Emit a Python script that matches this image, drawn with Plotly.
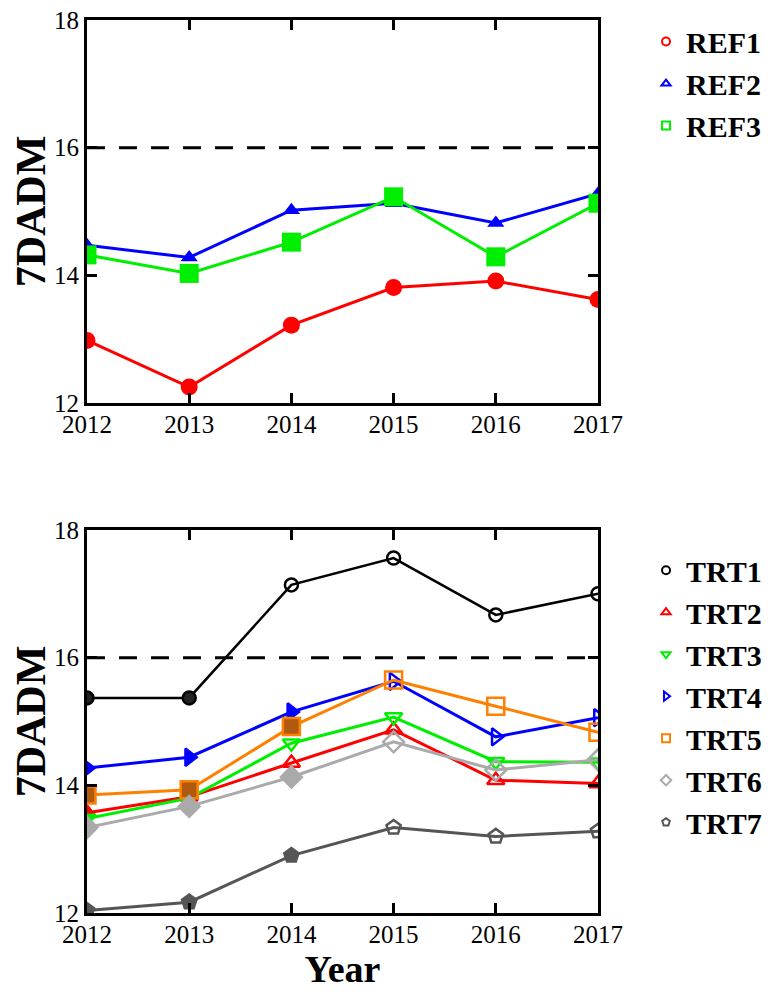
import plotly.graph_objects as go

years = [2012, 2013, 2014, 2015, 2016, 2017]

ref1 = [12.98, 12.25, 13.22, 13.81, 13.91, 13.62]
ref2 = [14.47, 14.28, 15.02, 15.13, 14.82, 15.28]
ref3 = [14.32, 14.03, 14.52, 15.23, 14.29, 15.13]

trt1 = [15.37, 15.37, 17.14, 17.56, 16.67, 17.00]
trt2 = [13.57, 13.82, 14.35, 14.87, 14.08, 14.03]
trt3 = [13.48, 13.80, 14.66, 15.07, 14.37, 14.36]
trt4 = [14.27, 14.44, 15.15, 15.63, 14.76, 15.06]
trt5 = [13.85, 13.93, 14.92, 15.65, 15.24, 14.83]
trt6 = [13.34, 13.67, 14.13, 14.68, 14.24, 14.40]
trt7 = [12.04, 12.17, 12.90, 13.34, 13.20, 13.28]

threshold = 16
y_ticks = [12, 14, 16, 18]

SERIF = "Liberation Serif, Times New Roman, serif"

fig = go.Figure()

# ---------- top panel ----------
top_series = [
    ("REF1", ref1, "#ff0000", "circle", 17),
    ("REF2", ref2, "#0000ff", "triangle-up", 15),
    ("REF3", ref3, "#00ee00", "square", 19),
]
for name, vals, col, sym, sz in top_series:
    fig.add_trace(go.Scatter(
        x=years, y=vals, mode="lines+markers", name=name,
        line=dict(color=col, width=3),
        marker=dict(symbol=sym, size=sz, color=col),
        xaxis="x", yaxis="y", showlegend=False))
for name, vals, col, sym, sz in top_series:
    fig.add_trace(go.Scatter(
        x=[None], y=[None], mode="markers", name=name,
        marker=dict(symbol=sym + "-open", size=8, color=col, line=dict(width=2)),
        xaxis="x", yaxis="y", legend="legend"))

# ---------- bottom panel ----------
def mix(n_filled, filled_sym, open_sym):
    return [filled_sym] * n_filled + [open_sym] * (6 - n_filled)

bottom_series = [
    ("TRT1", trt1, "#000000", "#222222", "circle", 2, 13, 2.5),
    ("TRT2", trt2, "#ff0000", "#ff0000", "triangle-up", 1, 15, 3),
    ("TRT3", trt3, "#00ee00", "#00ee00", "triangle-down", 1, 15, 3),
    ("TRT4", trt4, "#0000ff", "#0000ff", "triangle-right", 3, 15, 3),
    ("TRT5", trt5, "#ff8000", "#b05a10", "square", 3, 17, 3),
    ("TRT6", trt6, "#aaaaaa", "#aaaaaa", "diamond", 3, 16, 3),
    ("TRT7", trt7, "#555555", "#555555", "pentagon", 3, 15, 3),
]
for name, vals, col, fill, sym, nf, sz, lw in bottom_series:
    syms = mix(nf, sym, sym + "-open")
    cols = [fill] * nf + [col] * (6 - nf)
    fig.add_trace(go.Scatter(
        x=years, y=vals, mode="lines+markers", name=name,
        line=dict(color=col, width=lw),
        marker=dict(symbol=syms, size=sz, color=cols,
                    line=dict(color=col, width=2.5)),
        xaxis="x2", yaxis="y2", showlegend=False))
for name, vals, col, fill, sym, nf, sz, lw in bottom_series:
    fig.add_trace(go.Scatter(
        x=[None], y=[None], mode="markers", name=name,
        marker=dict(symbol=sym + "-open", size=8, color=col, line=dict(width=2)),
        xaxis="x2", yaxis="y2", legend="legend2"))

# dashed threshold lines
for yref, xref in (("y", "x"), ("y2", "x2")):
    fig.add_shape(type="line", xref=xref + " domain", yref=yref,
                  x0=0, x1=1, y0=threshold, y1=threshold,
                  line=dict(color="black", width=3, dash="18px,14px"), layer="below")

axis_common = dict(showline=True, linecolor="black", linewidth=3, mirror="ticks",
                   ticks="inside", ticklen=10, tickwidth=3, tickcolor="black",
                   showgrid=False, zeroline=False, ticklabeloverflow="allow",
                   tickfont=dict(family=SERIF, size=25, color="black"))

legend_font = dict(family=SERIF, size=30, color="black", weight="bold")

fig.update_layout(
    width=767, height=987,
    margin=dict(l=79, r=177, t=12, b=82, autoexpand=False),
    paper_bgcolor="white", plot_bgcolor="white",
    xaxis=dict(domain=[0, 1], range=[2012, 2017], tickvals=years, anchor="y",
               ticklabelstandoff=-3, **axis_common),
    yaxis=dict(domain=[0.5711, 1], range=[12, 18], tickvals=y_ticks, anchor="x",
               title=dict(text="<b>7DADM</b>", font=dict(family=SERIF, size=42, color="black"), standoff=14),
               **axis_common),
    xaxis2=dict(domain=[0, 1], range=[2012, 2017], tickvals=years, anchor="y2",
                ticklabelstandoff=-3,
                title=dict(text="<b>Year</b>", font=dict(family=SERIF, size=38, color="black"), standoff=4),
                **axis_common),
    yaxis2=dict(domain=[0, 0.4289], range=[12, 18], tickvals=y_ticks, anchor="x2",
                title=dict(text="<b>7DADM</b>", font=dict(family=SERIF, size=42, color="black"), standoff=14),
                **axis_common),
    legend=dict(x=1.094, y=1.005, xanchor="left", yanchor="top",
                font=legend_font, bgcolor="rgba(0,0,0,0)", tracegroupgap=0),
    legend2=dict(x=1.094, y=0.413, xanchor="left", yanchor="top",
                 font=legend_font, bgcolor="rgba(0,0,0,0)", tracegroupgap=0),
)

fig.write_html("out.html")
